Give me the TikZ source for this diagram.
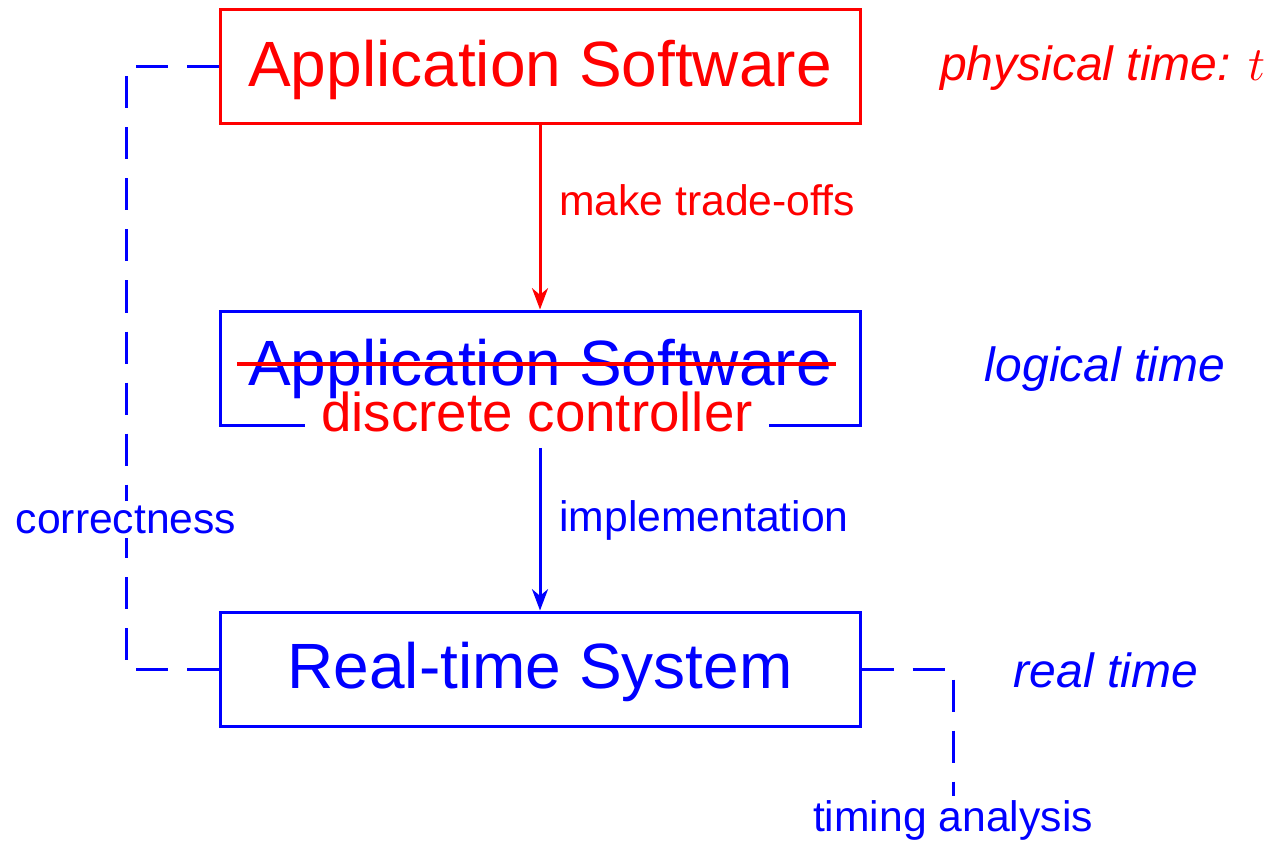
\RequirePackage{fix-cm}
\documentclass[tikz,border=0pt]{standalone}
\usepackage{fontspec}
\setmainfont{Liberation Sans}
\usetikzlibrary{arrows.meta}
\definecolor{pRed}{RGB}{255,0,0}
\definecolor{pBlue}{RGB}{0,0,255}

\begin{document}
\begin{tikzpicture}[x=0.75pt,y=-0.75pt,
  box/.style={draw,line width=2.25pt,minimum width=480pt,minimum height=85.5pt,
    inner sep=0pt,text height=35pt,text depth=6pt,font=\fontsize{48}{48}\selectfont},
  bigtext/.style={inner sep=0pt,font=\fontsize{48}{48}\selectfont},
  flow/.style={line width=2.25pt,-{Stealth[length=16pt,width=12pt,inset=5pt]}},
  link/.style={pBlue,line width=2.25pt,dash pattern=on 24pt off 14.25pt},
  note/.style={inner sep=0pt,font=\fontsize{32}{32}\selectfont},
  level/.style={inner sep=0pt,font=\fontsize{36}{36}\selectfont\itshape}]
\useasboundingbox (0,0) rectangle (1276,841);

% the three layers
\node[box,pRed] (app) at (540,67) {Application Software};
\node[box,pBlue] (ctl) at (540,368) {};
\node[box,pBlue] (rts) at (540,669) {Real-time System};

% middle layer: struck-out name and its replacement sitting on the frame
\node[pRed,fill=white,anchor=base,inner xsep=12.5pt,inner ysep=0pt,
  font=\fontsize{41}{41}\selectfont] (dc) at (537,431) {discrete controller};
\node[bigtext,pBlue,anchor=base] (old) at (540,385) {Application Software};
\draw[pRed,line width=3pt] ([xshift=-8pt,yshift=3.5pt]old.west) -- ([xshift=3pt,yshift=3.5pt]old.east);

% refinement arrows
\draw[flow,pRed] (app) -- (ctl);
\draw[flow,pBlue,shorten <=12pt] (dc.south -| ctl.south) -- (rts);
\node[note,pRed,anchor=base west] (mto) at (559,216) {make trade-offs};
\node[note,pBlue,anchor=base west] (impl) at (559,531) {implementation};

% correctness and timing links
\node[note,pBlue,anchor=base,inner sep=3pt] (corr) at (126,533) {correctness};
\node[note,pBlue,anchor=base,inner sep=3pt] (timing) at (953,831) {timing analysis};
\draw[link] (app.west) -| (corr);
\draw[link] (rts.west) -| (corr);
\draw[link] (rts.east) -| (timing);

% notions of time
\node[level,pRed,anchor=base] (phys) at (1103,81) {physical time: $t$};
\node[level,pBlue,anchor=base] (logi) at (1105,381) {logical time};
\node[level,pBlue,anchor=base] (real) at (1106,687) {real time};
\end{tikzpicture}
\end{document}
